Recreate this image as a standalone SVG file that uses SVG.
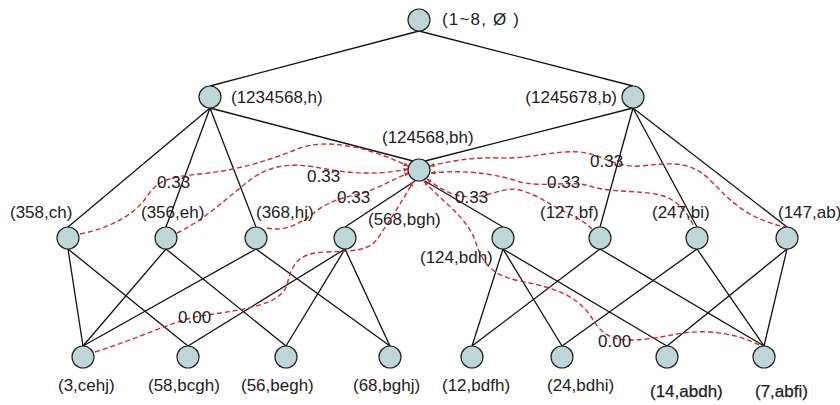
<svg xmlns="http://www.w3.org/2000/svg" width="840" height="405" viewBox="0 0 840 405">
<defs>
<style>
.e{stroke:#111;stroke-width:1.3;fill:none}
.d{stroke:#d42a2a;stroke-width:1.4;fill:none;stroke-dasharray:5 3}
.n{fill:#bdd6d8;stroke:#222;stroke-width:1.2}
text{font-family:"Liberation Sans",Arial,sans-serif;font-size:17px;fill:#222}
.w{stroke:#222;stroke-width:0.25}
</style>
<marker id="ah" viewBox="0 0 10 10" refX="9" refY="5" markerWidth="5" markerHeight="5" orient="auto-start-reverse" markerUnits="userSpaceOnUse">
<path d="M0,1 L10,5 L0,9 z" fill="#d42a2a"/>
</marker>
</defs>
<rect width="840" height="405" fill="#fff"/>
<g id="edges">
<line class="e" x1="419" y1="31" x2="210" y2="86"/>
<line class="e" x1="419" y1="31" x2="633" y2="86"/>
<line class="e" x1="210" y1="108" x2="413" y2="161"/>
<line class="e" x1="210" y1="108" x2="68" y2="227"/>
<line class="e" x1="210" y1="108" x2="166" y2="227"/>
<line class="e" x1="210" y1="108" x2="256" y2="227"/>
<line class="e" x1="633" y1="108" x2="425" y2="161"/>
<line class="e" x1="633" y1="108" x2="600" y2="227"/>
<line class="e" x1="633" y1="108" x2="697" y2="227"/>
<line class="e" x1="633" y1="108" x2="787" y2="227"/>
<line class="e" x1="415" y1="181" x2="345" y2="227"/>
<line class="e" x1="425" y1="181" x2="503" y2="227"/>
<line class="e" x1="68" y1="249" x2="83" y2="346"/>
<line class="e" x1="68" y1="249" x2="188" y2="346"/>
<line class="e" x1="166" y1="249" x2="83" y2="346"/>
<line class="e" x1="166" y1="249" x2="286" y2="346"/>
<line class="e" x1="256" y1="249" x2="83" y2="346"/>
<line class="e" x1="256" y1="249" x2="390" y2="346"/>
<line class="e" x1="345" y1="249" x2="188" y2="346"/>
<line class="e" x1="345" y1="249" x2="286" y2="346"/>
<line class="e" x1="345" y1="249" x2="390" y2="346"/>
<line class="e" x1="503" y1="249" x2="472" y2="346"/>
<line class="e" x1="503" y1="249" x2="562" y2="346"/>
<line class="e" x1="503" y1="249" x2="667" y2="346"/>
<line class="e" x1="600" y1="249" x2="472" y2="346"/>
<line class="e" x1="600" y1="249" x2="764" y2="346"/>
<line class="e" x1="697" y1="249" x2="562" y2="346"/>
<line class="e" x1="697" y1="249" x2="764" y2="346"/>
<line class="e" x1="787" y1="249" x2="667" y2="346"/>
<line class="e" x1="787" y1="249" x2="764" y2="346"/>
</g>
<g id="similarity">
<path class="d" marker-end="url(#ah)" d="M80,234 C110,228 135,215 148,195 C158,180 170,177 200,174 C240,170 270,160 300,148 C330,138 370,148 408,166"/>
<path class="d" marker-end="url(#ah)" d="M177,233 C205,220 230,195 250,180 C270,165 290,163 315,167 C345,173 375,176 408,169"/>
<path class="d" marker-end="url(#ah)" d="M267,228 C285,232 300,224 315,212 C328,202 340,198 360,194 C380,188 395,178 409,173"/>
<path class="d" marker-end="url(#ah)" d="M95,352 C140,338 170,322 200,316 C240,310 280,306 287,285 C292,262 300,253 325,252 C350,251 368,252 378,238 C390,220 403,200 413,182"/>
<path class="d" marker-start="url(#ah)" d="M430,166 C455,160 475,157 500,158 C530,159 555,150 580,152 C605,155 615,168 640,166 C670,163 690,160 710,180 C730,200 745,218 785,227"/>
<path class="d" marker-start="url(#ah)" d="M431,173 C460,170 490,172 520,182 C545,188 570,180 590,186 C610,193 640,190 660,195 C680,200 688,215 695,228"/>
<path class="d" marker-start="url(#ah)" d="M427,179 C440,188 450,196 470,197 C490,197 505,186 520,190 C540,196 550,205 565,212 C578,218 585,222 592,229"/>
<path class="d" marker-start="url(#ah)" d="M424,181 C440,200 465,215 475,240 C482,262 490,275 520,281 C555,288 575,295 590,315 C598,328 605,340 630,340 C660,340 680,330 710,332 C735,334 750,340 763,347"/>
</g>
<g id="n0"><circle class="n" cx="419" cy="20" r="11"/><text x="442" y="25" textLength="77">(1~8, Ø )</text></g>
<g id="n1"><circle class="n" cx="210" cy="97" r="11"/><text x="231" y="103">(1234568,h)</text></g>
<g id="n2"><circle class="n" cx="633" cy="97" r="11"/><text x="617" y="103" text-anchor="end">(1245678,b)</text></g>
<g id="n3"><circle class="n" cx="419" cy="170" r="11"/><text x="382" y="143">(124568,bh)</text></g>
<g id="n358"><circle class="n" cx="68" cy="238" r="11"/><text x="10" y="218">(358,ch)</text></g>
<g id="n356"><circle class="n" cx="166" cy="238" r="11"/><text x="141" y="218">(356,eh)</text></g>
<g id="n368"><circle class="n" cx="256" cy="238" r="11"/><text x="256" y="218">(368,hj)</text></g>
<g id="n568"><circle class="n" cx="345" cy="238" r="11"/><text x="368" y="225">(568,bgh)</text></g>
<g id="n124"><circle class="n" cx="503" cy="238" r="11"/><text x="420" y="263">(124,bdh)</text></g>
<g id="n127"><circle class="n" cx="600" cy="238" r="11"/><text x="540" y="218">(127,bf)</text></g>
<g id="n247"><circle class="n" cx="697" cy="238" r="11"/><text x="652" y="218">(247,bi)</text></g>
<g id="n147"><circle class="n" cx="787" cy="238" r="11"/><text x="778" y="218">(147,ab)</text></g>
<g id="n3cehj"><circle class="n" cx="83" cy="357" r="11"/><text x="58" y="391">(3,cehj)</text></g>
<g id="n58"><circle class="n" cx="188" cy="357" r="11"/><text x="148" y="391">(58,bcgh)</text></g>
<g id="n56"><circle class="n" cx="286" cy="357" r="11"/><text x="241" y="391">(56,begh)</text></g>
<g id="n68"><circle class="n" cx="390" cy="357" r="11"/><text x="353" y="391">(68,bghj)</text></g>
<g id="n12"><circle class="n" cx="472" cy="357" r="11"/><text x="442" y="391">(12,bdfh)</text></g>
<g id="n24"><circle class="n" cx="562" cy="357" r="11"/><text x="547" y="391">(24,bdhi)</text></g>
<g id="n14"><circle class="n" cx="667" cy="357" r="11"/><text class="w" x="650" y="397">(14,abdh)</text></g>
<g id="n7"><circle class="n" cx="764" cy="357" r="11"/><text class="w" x="755" y="397">(7,abfi)</text></g>
<g id="labels">
<text x="157" y="188">0.33</text>
<text x="307" y="182">0.33</text>
<text x="337" y="203">0.33</text>
<text x="455" y="203">0.33</text>
<text x="547" y="188">0.33</text>
<text x="590" y="167">0.33</text>
<text x="178" y="323">0.00</text>
<text x="598" y="347">0.00</text>
</g>
</svg>
